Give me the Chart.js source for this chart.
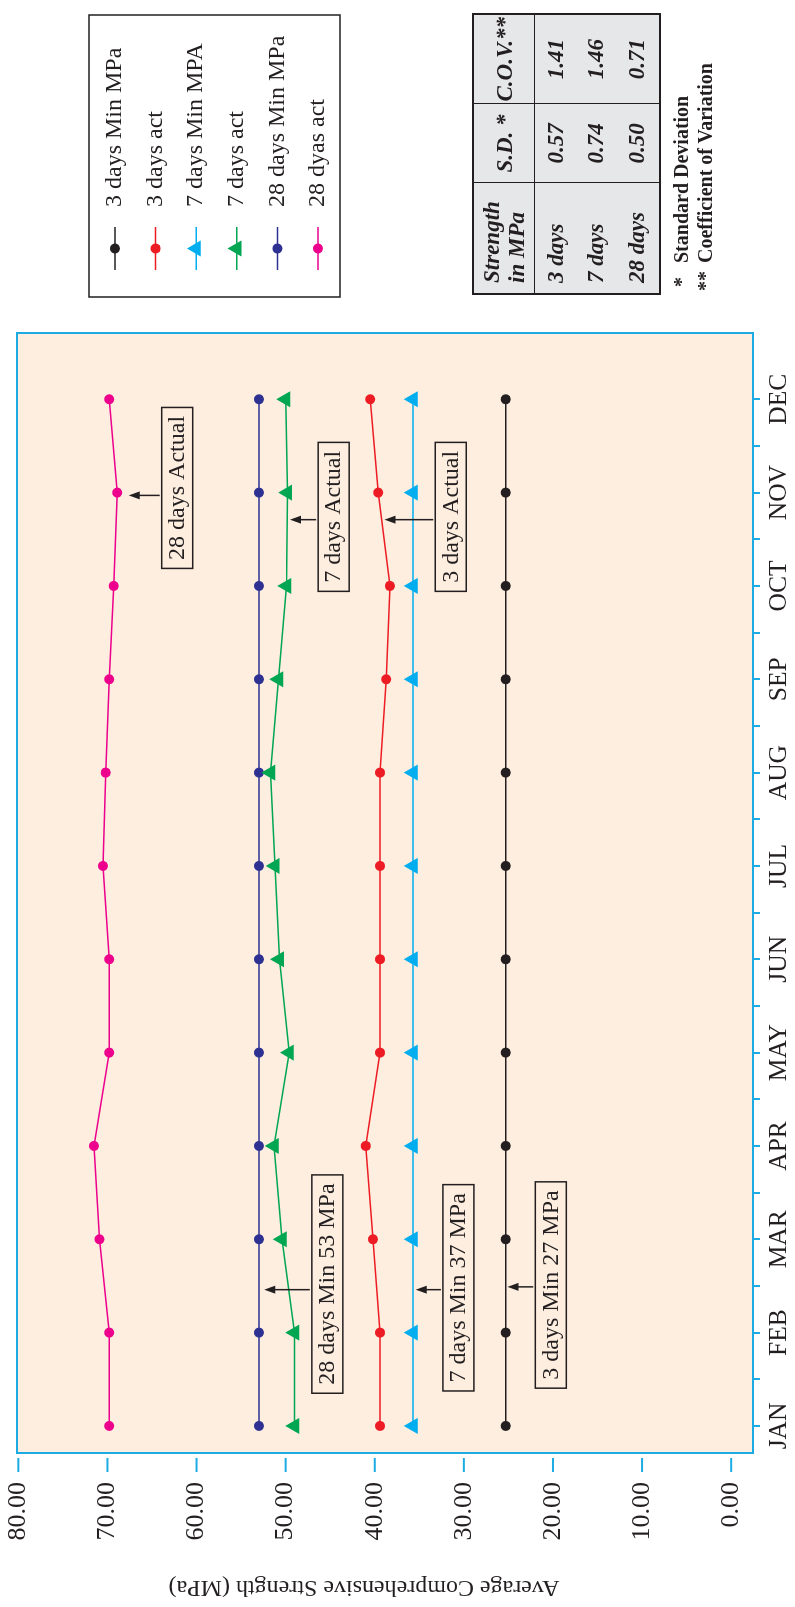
<!DOCTYPE html>
<html>
<head>
<meta charset="utf-8">
<title>Average Comprehensive Strength</title>
<script src="https://cdn.jsdelivr.net/npm/chart.js@4.4.0/dist/chart.umd.min.js"></script>
<style>
  html, body { margin: 0; padding: 0; background: #fff; width: 795px; height: 1607px; overflow: hidden; }
  /* the figure is laid out landscape and turned a quarter left */
  #sheet { position: absolute; left: 0; top: 0; width: 1607px; height: 795px;
           transform-origin: 0 0; transform: translateY(1607px) rotate(-90deg); }
  #chart { position: absolute; left: 0; top: 0; }
  table.stats { position: absolute; left: 1312px; top: 472px; width: 280px; table-layout: fixed;
                border-collapse: collapse; border: 2px solid #231f20; background: #e6e7e8;
                font-family: 'Liberation Serif', serif; font-weight: bold; font-style: italic;
                font-size: 23px; color: #231f20; }
  table.stats td { padding: 0; text-align: center; border-left: 1.5px solid #231f20; border-right: 1.5px solid #231f20; }
  table.stats td.first { text-align: left; padding-left: 10px; }
  table.stats tr.head td { height: 60px; line-height: 25px; border-bottom: 1.5px solid #231f20; }
  .foot { position: absolute; left: 1316px; top: 670px; font: bold 20px 'Liberation Serif', serif;
          line-height: 23.5px; color: #231f20; white-space: nowrap; }
  .foot .st { display: inline-block; width: 28px; }
</style>
</head>
<body>
<div id="sheet">
  <canvas id="chart" width="1607" height="795"></canvas>
  <table class="stats">
    <colgroup><col style="width:111px"><col style="width:79px"><col style="width:90px"></colgroup>
    <tr class="head"><td class="first">Strength<br>in MPa</td><td>S.D. *</td><td>C.O.V.**</td></tr>
    <tr style="height:42px"><td class="first">3 days</td><td>0.57</td><td>1.41</td></tr>
    <tr style="height:39px"><td class="first">7 days</td><td>0.74</td><td>1.46</td></tr>
    <tr style="height:44px"><td class="first">28 days</td><td>0.50</td><td>0.71</td></tr>
  </table>
  <div class="foot">
    <div><span class="st" style="padding-left:4px;width:24px">*</span>Standard Deviation</div>
    <div><span class="st">**</span>Coefficient of Variation</div>
  </div>
</div>

<script>
const months = ['JAN', 'FEB', 'MAR', 'APR', 'MAY', 'JUN', 'JUL', 'AUG', 'SEP', 'OCT', 'NOV', 'DEC'];
const min3  = [25.3, 25.3, 25.3, 25.3, 25.3, 25.3, 25.3, 25.3, 25.3, 25.3, 25.3, 25.3];
const act3  = [39.4, 39.4, 40.2, 41.0, 39.4, 39.4, 39.4, 39.4, 38.7, 38.3, 39.6, 40.5];
const min7  = [35.7, 35.7, 35.7, 35.7, 35.7, 35.7, 35.7, 35.7, 35.7, 35.7, 35.7, 35.7];
const act7  = [49.0, 49.0, 50.4, 51.3, 49.6, 50.7, 51.2, 51.7, 50.8, 49.9, 49.8, 50.0];
const min28 = [53.0, 53.0, 53.0, 53.0, 53.0, 53.0, 53.0, 53.0, 53.0, 53.0, 53.0, 53.0];
const act28 = [69.8, 69.8, 70.9, 71.5, 69.8, 69.8, 70.5, 70.2, 69.8, 69.3, 68.9, 69.8];
const yTicks = [0, 10, 20, 30, 40, 50, 60, 70, 80];
const yTitle = 'Average Comprehensive Strength (MPa)';

// boxed call-outs: x in months, box edge and arrow tip in MPa
const notes = [
  { text: '28 days Min 53 MPa', x: 1.52, arrowX: 1.46, edge: 47.06, tip: 52.4 },
  { text: '7 days Min 37 MPa',  x: 1.48, arrowX: 1.46, edge: 32.35, tip: 35.4 },
  { text: '3 days Min 27 MPa',  x: 1.51, arrowX: 1.49, edge: 21.98, tip: 25.1 },
  { text: '28 days Actual',     x: 10.05, arrowX: 9.97, edge: 63.91, tip: 67.6 },
  { text: '7 days Actual',      x: 9.74, arrowX: 9.71, edge: 46.35, tip: 49.5 },
  { text: '3 days Actual',      x: 9.74, arrowX: 9.71, edge: 33.21, tip: 38.9 }
];

const ink = '#231f20';
const cyan = '#1cace3';
const serif = "'Liberation Serif', 'Times New Roman', serif";

function series(label, vals, color, style) {
  return {
    label: label,
    data: vals.map(function (v, i) { return { x: i, y: v }; }),
    borderColor: color,
    backgroundColor: color,
    borderWidth: 1.5,
    pointStyle: style,
    pointRadius: style === 'triangle' ? 9.3 : 5,
    pointBorderWidth: 0,
    tension: 0
  };
}

function marker(ctx, style, r, x, y) {
  ctx.beginPath();
  if (style === 'triangle') {
    ctx.moveTo(x, y - r);
    ctx.lineTo(x + r * 0.866, y + r / 2);
    ctx.lineTo(x - r * 0.866, y + r / 2);
    ctx.closePath();
  } else {
    ctx.arc(x, y, r, 0, Math.PI * 2);
  }
  ctx.fill();
}

const decor = {
  id: 'decor',
  beforeDraw: function (chart) {
    const ca = chart.chartArea, ctx = chart.ctx;
    ctx.save();
    ctx.fillStyle = '#fdeee0';
    ctx.fillRect(ca.left, ca.top, ca.width, ca.height);
    ctx.restore();
  },
  beforeDatasetsDraw: function (chart) {
    const ca = chart.chartArea, ctx = chart.ctx;
    ctx.save();
    ctx.strokeStyle = cyan;
    ctx.lineWidth = 2;
    ctx.strokeRect(ca.left, ca.top, ca.width, ca.height);
    ctx.restore();
  },
  afterDatasetsDraw: function (chart) {
    const ctx = chart.ctx, xs = chart.scales.x, ys = chart.scales.y;
    ctx.save();
    ctx.font = '24px ' + serif;
    ctx.strokeStyle = ink;
    ctx.fillStyle = ink;
    ctx.lineWidth = 1.5;
    notes.forEach(function (n) {
      const w = ctx.measureText(n.text).width + 17;
      const cx = xs.getPixelForValue(n.x);
      const top = ys.getPixelForValue(n.edge);
      ctx.strokeRect(cx - w / 2, top, w, 31);
      ctx.textAlign = 'center';
      ctx.textBaseline = 'middle';
      ctx.fillText(n.text, cx, top + 16);
      // arrow up to the line
      const ax = xs.getPixelForValue(n.arrowX);
      const tip = ys.getPixelForValue(n.tip);
      ctx.beginPath();
      ctx.moveTo(ax, top - 2);
      ctx.lineTo(ax, tip + 8);
      ctx.stroke();
      ctx.beginPath();
      ctx.moveTo(ax, tip);
      ctx.lineTo(ax - 4, tip + 11);
      ctx.lineTo(ax + 4, tip + 11);
      ctx.closePath();
      ctx.fill();
    });
    ctx.restore();
  },
  afterDraw: function (chart) {
    const ca = chart.chartArea, ctx = chart.ctx, ys = chart.scales.y;
    ctx.save();
    // value axis tick marks, set off from the frame
    ctx.strokeStyle = cyan;
    ctx.lineWidth = 2;
    ys.ticks.forEach(function (t) {
      const p = ys.getPixelForValue(t.value);
      ctx.beginPath();
      ctx.moveTo(ca.left - 19, p);
      ctx.lineTo(ca.left - 5, p);
      ctx.stroke();
    });

    // axis title
    ctx.fillStyle = ink;
    ctx.font = '24px ' + serif;
    ctx.textAlign = 'center';
    ctx.textBaseline = 'middle';
    ctx.translate(20, 364);
    ctx.rotate(-Math.PI / 2);
    ctx.fillText(yTitle, 0, 0);
    ctx.restore();

    // legend
    ctx.save();
    ctx.strokeStyle = ink;
    ctx.lineWidth = 1.5;
    ctx.strokeRect(1310, 89, 282, 251);
    ctx.font = '24px ' + serif;
    ctx.textAlign = 'left';
    ctx.textBaseline = 'middle';
    chart.data.datasets.forEach(function (ds, i) {
      const y = 115 + i * 40.6;
      ctx.strokeStyle = ds.borderColor;
      ctx.beginPath();
      ctx.moveTo(1337, y);
      ctx.lineTo(1380, y);
      ctx.stroke();
      ctx.fillStyle = ds.backgroundColor;
      marker(ctx, ds.pointStyle, ds.pointRadius, 1358.5, y);
      ctx.fillStyle = ink;
      ctx.fillText(ds.label, 1400, y);
    });
    ctx.restore();
  }
};

new Chart(document.getElementById('chart').getContext('2d'), {
  type: 'line',
  data: {
    datasets: [
      series('3 days Min MPa', min3, ink, 'circle'),
      series('3 days act', act3, '#ed1c24', 'circle'),
      series('7 days Min MPA', min7, '#00aeef', 'triangle'),
      series('7 days act', act7, '#00a651', 'triangle'),
      series('28 days Min MPa', min28, '#2e3192', 'circle'),
      series('28 dyas act', act28, '#ec008c', 'circle')
    ]
  },
  options: {
    responsive: false,
    devicePixelRatio: 1,
    animation: false,
    events: [],
    layout: { padding: { top: 17, right: 333, left: 0, bottom: 0 } },
    plugins: { legend: { display: false }, tooltip: { enabled: false } },
    scales: {
      x: {
        type: 'linear',
        min: -0.29,
        max: 11.71,
        afterFit: function (scale) {
          scale.height = 42;
          scale.paddingLeft = 0;
          scale.paddingRight = 0;
        },
        afterBuildTicks: function (scale) {
          const t = [];
          for (let i = 0; i < months.length * 2 - 1; i++) t.push({ value: i / 2 });
          scale.ticks = t;
        },
        border: { display: false },
        grid: { drawOnChartArea: false, drawTicks: true, tickLength: 7, color: cyan, lineWidth: 2 },
        ticks: {
          autoSkip: false,
          maxRotation: 0,
          padding: 4,
          color: ink,
          font: { family: serif, size: 25.5 },
          callback: function (v) { return Number.isInteger(v) ? months[v] : ''; }
        }
      },
      y: {
        min: -2.45,
        max: 80.15,
        afterFit: function (scale) {
          scale.width = 154;
          scale.paddingTop = 0;
          scale.paddingBottom = 0;
        },
        afterBuildTicks: function (scale) {
          scale.ticks = yTicks.map(function (v) { return { value: v }; });
        },
        border: { display: false },
        grid: { display: false, drawTicks: false },
        ticks: {
          padding: 29,
          color: ink,
          font: { family: serif, size: 26 },
          callback: function (v) { return v.toFixed(2); }
        }
      }
    }
  },
  plugins: [decor]
});
</script>
</body>
</html>
